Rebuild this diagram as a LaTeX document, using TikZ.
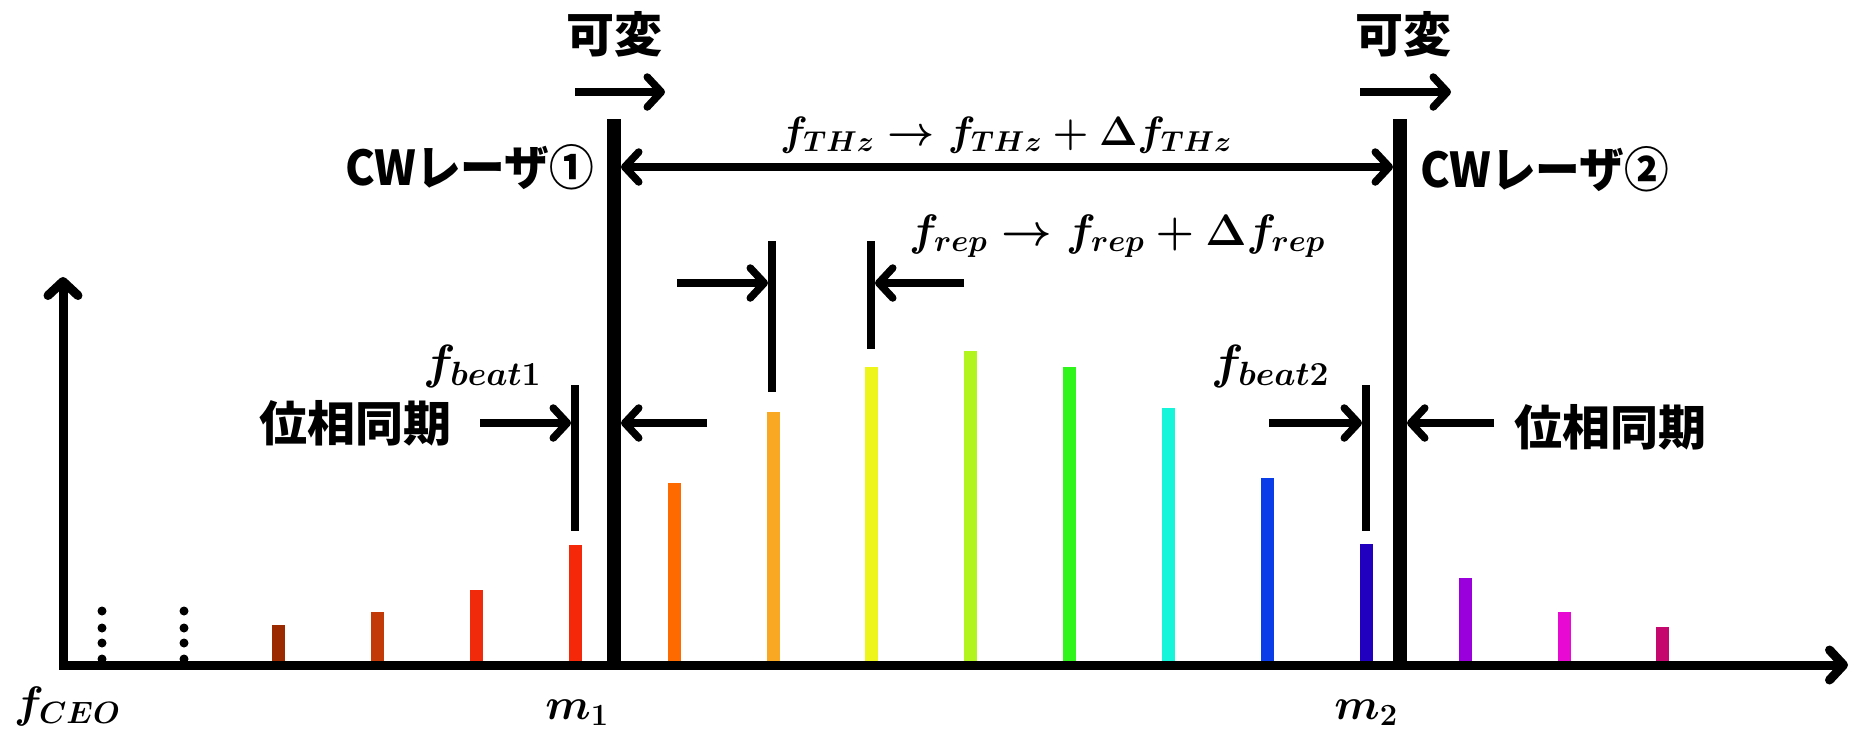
\RequirePackage{fix-cm}
\documentclass[tikz,border=0pt]{standalone}
\usepackage{fontspec}
\usetikzlibrary{arrows.meta}
\newfontfamily\jp{Noto Sans CJK JP}
\newfontfamily\jpc{Noto Sans CJK JP}[FakeStretch=0.93]
\definecolor{k1}{HTML}{9B2A00}
\definecolor{k2}{HTML}{C23A08}
\definecolor{k3}{HTML}{F02A0A}
\definecolor{k4}{HTML}{F5280A}
\definecolor{k5}{HTML}{FF6A00}
\definecolor{k6}{HTML}{F9A823}
\definecolor{k7}{HTML}{EEF51A}
\definecolor{k8}{HTML}{B2F51E}
\definecolor{k9}{HTML}{30F51A}
\definecolor{k10}{HTML}{14F5DA}
\definecolor{k11}{HTML}{0A3DE8}
\definecolor{k12}{HTML}{2200C0}
\definecolor{k13}{HTML}{9A00DC}
\definecolor{k14}{HTML}{E80AD2}
\definecolor{k15}{HTML}{C4086E}
\tikzset{
  tip/.tip={Straight Barb[length=14pt,width=30pt,round]},
  ar/.style={line width=7.5pt,-tip},
  dar/.style={line width=7.5pt,tip-tip},
  axisline/.style={line width=9pt,-tip},
  cwline/.style={line width=14pt},
  thinline/.style={line width=8pt},
  combline/.style={line width=13pt},
  jlabel/.style={inner sep=0pt,font=\jp\bfseries\fontsize{48}{52}\selectfont},
  jlabel2/.style={inner sep=0pt,font=\jpc\bfseries\fontsize{48}{52}\selectfont},
  mlabel/.style={inner sep=0pt,font=\fontsize{44}{50}\selectfont\boldmath},
  mlabelb/.style={inner sep=0pt,font=\fontsize{48}{54}\selectfont\boldmath},
  mlabelt/.style={inner sep=0pt,font=\fontsize{41}{48}\selectfont\boldmath},
  dotmark/.style={fill=black,circle,inner sep=0pt,minimum size=9pt},
}
\begin{document}
\begin{tikzpicture}[x=1pt,y=-1pt]
\useasboundingbox (0,0) rectangle (1850,731);
% comb lines
\foreach \x/\c/\t in {278/k1/625,377/k2/612,476/k3/590,575/k4/545,674/k5/483,773/k6/412,871/k7/367,970/k8/351,1069/k9/367,1168/k10/408,1267/k11/478,1366/k12/544,1465/k13/578,1564/k14/612,1662/k15/627}
  \draw[combline,\c] (\x,661) -- (\x,\t);
% dots
\foreach \x in {102,184}
  \foreach \y in {611,628,643,659}
    \node[dotmark] at (\x,\y) {};
% axes
\coordinate (O) at (63,665);
\coordinate (ytop) at (63,277);
\coordinate (xright) at (1848,665);
\draw[axisline] (59,665) -- (xright);
\draw[axisline] (O) -- (ytop);
% CW laser lines
\coordinate (cw1t) at (614,119);
\coordinate (cw1b) at (614,665);
\coordinate (cw2t) at (1400,119);
\coordinate (cw2b) at (1400,665);
\draw[cwline] (cw1t) -- (cw1b);
\draw[cwline] (cw2t) -- (cw2b);
% thin marker lines
\coordinate (r1t) at (772,241); \coordinate (r1b) at (772,392);
\coordinate (r2t) at (871,241); \coordinate (r2b) at (871,349);
\coordinate (b1t) at (575,385); \coordinate (b1b) at (575,531);
\coordinate (b2t) at (1366,385); \coordinate (b2b) at (1366,531);
\draw[thinline] (r1t) -- (r1b);
\draw[thinline] (r2t) -- (r2b);
\draw[thinline] (b1t) -- (b1b);
\draw[thinline] (b2t) -- (b2b);
% arrows
\coordinate (v1s) at (575,92); \coordinate (v1e) at (665,92);
\coordinate (v2s) at (1360,92); \coordinate (v2e) at (1451,92);
\draw[ar] (v1s) -- (v1e);
\draw[ar] (v2s) -- (v2e);
\coordinate (dl) at (621,167); \coordinate (dr) at (1393,167);
\draw[dar] (dl) -- (dr);
\coordinate (ra1) at (677,283); \coordinate (ra1e) at (768,283);
\coordinate (ra2) at (964,283); \coordinate (ra2e) at (875,283);
\draw[ar] (ra1) -- (ra1e);
\draw[ar] (ra2) -- (ra2e);
\coordinate (ba1) at (480,423); \coordinate (ba1e) at (571,423);
\coordinate (ba2) at (707,423); \coordinate (ba2e) at (621,423);
\draw[ar] (ba1) -- (ba1e);
\draw[ar] (ba2) -- (ba2e);
\coordinate (bb1) at (1269,423); \coordinate (bb1e) at (1362,423);
\coordinate (bb2) at (1494,423); \coordinate (bb2e) at (1407,423);
\draw[ar] (bb1) -- (bb1e);
\draw[ar] (bb2) -- (bb2e);
% labels
\node[jlabel] (kahen1) at (614,34) {可変};
\node[jlabel] (kahen2) at (1403,34) {可変};
\node[jlabel2,anchor=east] (cw1) at (594,167) {CWレーザ①};
\node[jlabel2,anchor=west] (cw2) at (1420,169) {CWレーザ②};
\node[jlabel,anchor=east] (iso1) at (452,423) {位相同期};
\node[jlabel,anchor=west] (iso2) at (1514,427) {位相同期};
\node[mlabelt,anchor=base] (thz) at (1006,145) {$f_{THz}\to f_{THz}+\Delta f_{THz}$};
\node[mlabel,anchor=base] (rep) at (1117,245) {$f_{rep}\to f_{rep}+\Delta f_{rep}$};
\node[mlabelb,anchor=base] (beat1) at (482,378) {$f_{beat1}$};
\node[mlabelb,anchor=base] (beat2) at (1270,378) {$f_{beat2}$};
\node[mlabel,anchor=base west] (fceo) at (14,717) {$f_{CEO}$};
\node[mlabel,anchor=base] (m1) at (577,719) {$m_1$};
\node[mlabel,anchor=base] (m2) at (1366,719) {$m_2$};
\end{tikzpicture}
\end{document}
